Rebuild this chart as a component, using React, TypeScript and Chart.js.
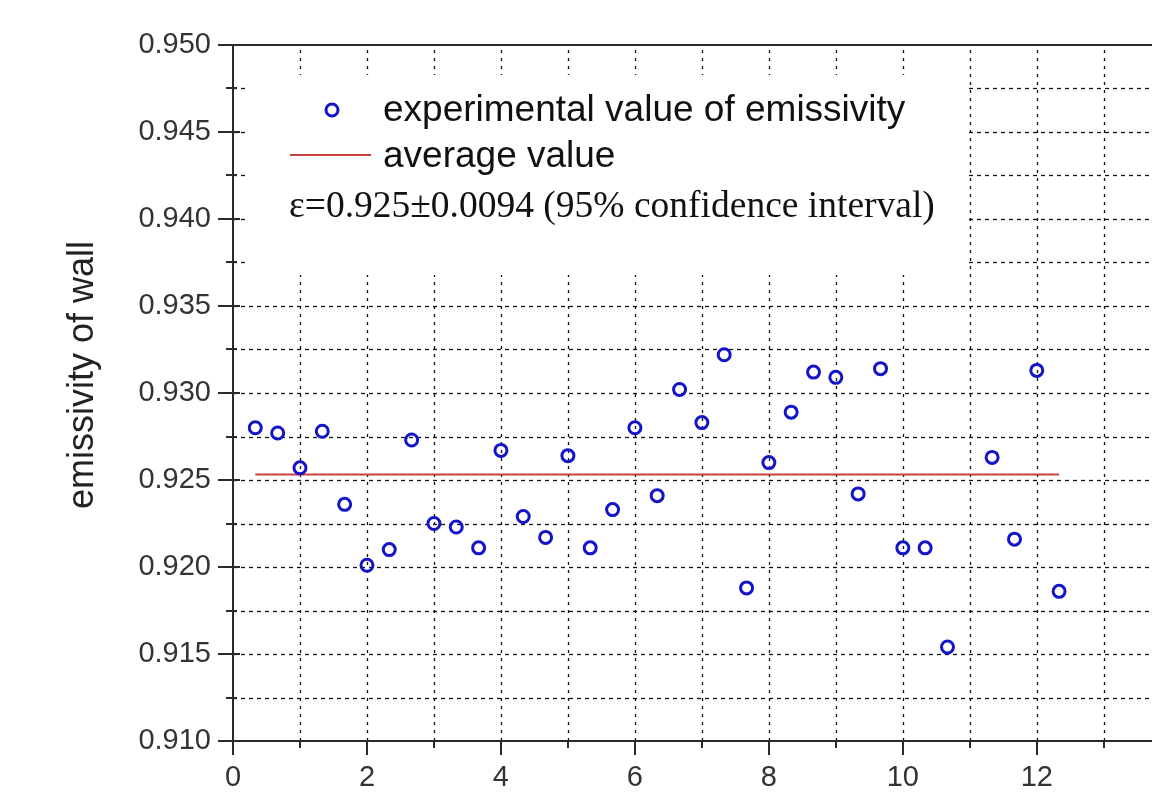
import React, { useEffect, useRef } from "react";
import { Chart, registerables } from "chart.js";

Chart.register(...registerables);

// ---- data ----
const sampleX = [
  0.333, 0.667, 1.0, 1.333, 1.667, 2.0, 2.333, 2.667, 3.0, 3.333, 3.667, 4.0,
  4.333, 4.667, 5.0, 5.333, 5.667, 6.0, 6.333, 6.667, 7.0, 7.333, 7.667, 8.0,
  8.333, 8.667, 9.0, 9.333, 9.667, 10.0, 10.333, 10.667, 11.333, 11.667, 12.0, 12.333,
];
const emissivity = [
  0.928, 0.9277, 0.9257, 0.9278, 0.9236, 0.9201, 0.921, 0.9273, 0.9225, 0.9223, 0.9211, 0.9267,
  0.9229, 0.9217, 0.9264, 0.9211, 0.9233, 0.928, 0.9241, 0.9302, 0.9283, 0.9322, 0.9188, 0.926,
  0.9289, 0.9312, 0.9309, 0.9242, 0.9314, 0.9211, 0.9211, 0.9154, 0.9263, 0.9216, 0.9313, 0.9186,
];
const averageValue = 0.92532;
const averageSpan = [0.333, 12.333];

const xAxisMin = 0;
const xAxisMax = 13.72;
const xMajorStep = 2;
const xMinorStep = 1;
const yAxisMin = 0.91;
const yAxisMax = 0.95;
const yMajorStep = 0.005;
const yMinorStep = 0.0025;

const yTitle = "emissivity of wall";
const legendPointLabel = "experimental value of emissivity";
const legendLineLabel = "average value";
const noteText = "\u03b5=0.925\u00b10.0094 (95% confidence interval)";

const BLUE = "#1414c8";
const RED = "#c8403c";
const SANS = '"Liberation Sans", Arial, sans-serif';
const SERIF = '"Liberation Serif", "Times New Roman", serif';

const framePlugin = {
  id: "frame",
  beforeDatasetsDraw(chart: any) {
    const { ctx, chartArea, scales } = chart;
    const { left, top, right, bottom } = chartArea;
    const xs = scales.x;
    const ys = scales.y;
    ctx.save();
    // dotted grid
    ctx.strokeStyle = "#111";
    ctx.lineWidth = 1.3;
    ctx.setLineDash([4, 4]);
    const nY = Math.round((yAxisMax - yAxisMin) / yMinorStep);
    for (let i = 1; i < nY; i++) {
      const py = Math.round(ys.getPixelForValue(yAxisMin + i * yMinorStep)) + 0.5;
      ctx.beginPath();
      ctx.moveTo(left, py);
      ctx.lineTo(right, py);
      ctx.stroke();
    }
    ctx.setLineDash([3, 5]);
    for (let v = xAxisMin + xMinorStep; v <= xAxisMax; v += xMinorStep) {
      const px = Math.round(xs.getPixelForValue(v)) + 0.5;
      ctx.beginPath();
      ctx.moveTo(px, bottom);
      ctx.lineTo(px, top);
      ctx.stroke();
    }
    ctx.setLineDash([]);
    // legend background (hides grid)
    ctx.fillStyle = "#ffffff";
    ctx.fillRect(left + 13, top + 30, 720, 200);

    // axes
    ctx.strokeStyle = "#2a2a2a";
    ctx.lineWidth = 2;
    ctx.beginPath();
    ctx.moveTo(left, top);
    ctx.lineTo(left, bottom);
    ctx.moveTo(left - 15, bottom);
    ctx.lineTo(right, bottom);
    ctx.moveTo(left - 15, top);
    ctx.lineTo(right, top);
    ctx.stroke();

    // y ticks
    for (let i = 0; i <= nY; i++) {
      const py = Math.round(ys.getPixelForValue(yAxisMin + i * yMinorStep));
      const major = i % 2 === 0;
      ctx.beginPath();
      ctx.moveTo(left - (major ? 15 : 7), py);
      ctx.lineTo(left + (major ? 7 : 4), py);
      ctx.stroke();
    }
    // x ticks
    for (let v = xAxisMin; v <= xAxisMax; v += xMinorStep) {
      const px = Math.round(xs.getPixelForValue(v));
      const major = Math.round(v) % xMajorStep === 0;
      ctx.beginPath();
      ctx.moveTo(px, bottom);
      ctx.lineTo(px, bottom + (major ? 14 : 7));
      ctx.stroke();
    }
    ctx.restore();
  },
  afterDatasetsDraw(chart: any) {
    const { ctx, chartArea } = chart;
    const { left, top } = chartArea;
    ctx.save();
    // legend marker
    ctx.strokeStyle = BLUE;
    ctx.lineWidth = 3;
    ctx.beginPath();
    ctx.arc(left + 99, top + 65, 6, 0, Math.PI * 2);
    ctx.stroke();
    // legend line
    ctx.strokeStyle = RED;
    ctx.lineWidth = 2;
    ctx.beginPath();
    ctx.moveTo(left + 57, top + 110);
    ctx.lineTo(left + 138, top + 110);
    ctx.stroke();
    // legend texts
    ctx.fillStyle = "#111";
    ctx.textAlign = "left";
    ctx.textBaseline = "alphabetic";
    ctx.font = `37px ${SANS}`;
    ctx.fillText(legendPointLabel, left + 150, top + 76);
    ctx.fillText(legendLineLabel, left + 150, top + 122);
    ctx.font = `37.5px ${SERIF}`;
    ctx.fillText(noteText, left + 56, top + 172);
    // y title
    ctx.fillStyle = "#222";
    ctx.font = `36px ${SANS}`;
    ctx.translate(83, 375);
    ctx.rotate(-Math.PI / 2);
    ctx.textAlign = "center";
    ctx.textBaseline = "middle";
    ctx.fillText(yTitle, 0, 0);
    ctx.restore();
  },
};

export default function App() {
  const canvasRef = useRef<HTMLCanvasElement | null>(null);

  useEffect(() => {
    document.body.style.margin = "0";
    const canvas = canvasRef.current;
    if (!canvas) return;
    const chart = new Chart(canvas, {
      type: "scatter",
      data: {
        datasets: [
          {
            label: legendPointLabel,
            data: sampleX.map((x, i) => ({ x, y: emissivity[i] })),
            pointStyle: "circle",
            pointRadius: 6,
            pointBorderWidth: 3,
            pointBorderColor: BLUE,
            pointBackgroundColor: "rgba(255,255,255,0)",
            showLine: false,
          } as any,
          {
            type: "line",
            label: legendLineLabel,
            data: averageSpan.map((x) => ({ x, y: averageValue })),
            borderColor: RED,
            borderWidth: 2,
            pointRadius: 0,
            fill: false,
            showLine: true,
          } as any,
        ],
      },
      options: {
        animation: false,
        responsive: false,
        devicePixelRatio: 1,
        layout: { autoPadding: false, padding: { top: 45, left: 0, right: 0, bottom: 0 } },
        plugins: { legend: { display: false }, tooltip: { enabled: false } },
        scales: {
          x: {
            type: "linear",
            min: xAxisMin,
            max: xAxisMax,
            grid: { display: false, drawTicks: false },
            border: { display: false },
            ticks: {
              stepSize: xMajorStep,
              includeBounds: false,
              autoSkip: false,
              maxRotation: 0,
              padding: 20,
              color: "#333",
              font: { family: SANS, size: 29 },
            },
            afterFit: (s: any) => {
              s.height = 62;
              s.paddingLeft = 0;
              s.paddingRight = 0;
            },
          },
          y: {
            type: "linear",
            min: yAxisMin,
            max: yAxisMax,
            grid: { display: false, drawTicks: false },
            border: { display: false },
            ticks: {
              stepSize: yMajorStep,
              autoSkip: false,
              padding: 22,
              color: "#333",
              font: { family: SANS, size: 29 },
              callback: (v: any) => Number(v).toFixed(3),
            },
            afterFit: (s: any) => {
              s.width = 233;
              s.paddingTop = 0;
              s.paddingBottom = 0;
            },
          },
        },
      } as any,
      plugins: [framePlugin],
    });
    return () => chart.destroy();
  }, []);

  return (
    <div style={{ position: "absolute", left: 0, top: 0, width: 1152, height: 803, background: "#fff" }}>
      <canvas ref={canvasRef} width={1152} height={803} style={{ display: "block" }} />
    </div>
  );
}
